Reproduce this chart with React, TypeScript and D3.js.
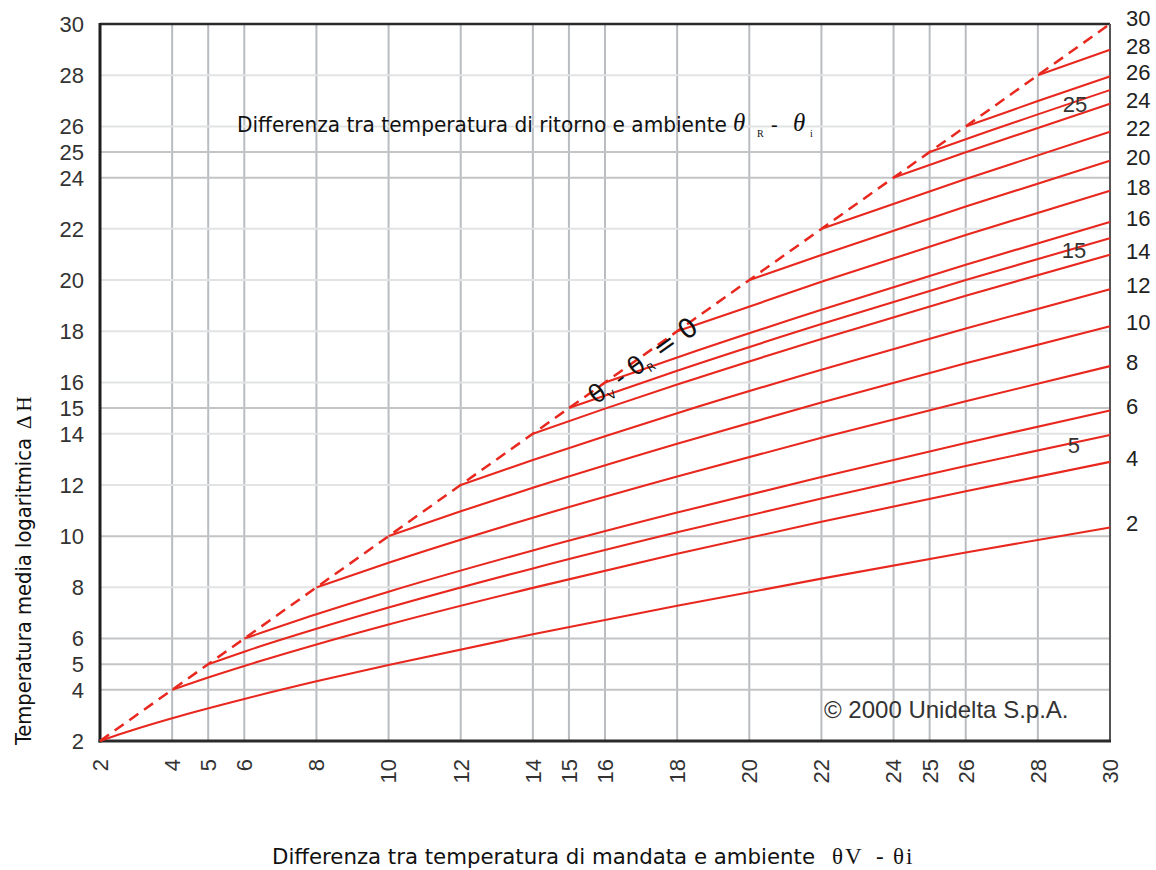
import React from "react";
import * as d3 from "d3";

// tick values on both axes (°C)
const axisTicks = [2, 4, 5, 6, 8, 10, 12, 14, 15, 16, 18, 20, 22, 24, 25, 26, 28, 30];
// horizontal grid rows drawn in the darker grey
const darkRows = [4, 5, 6, 10, 15, 24, 25];

// curves: [θV - θi, ΔH] for each return difference θR - θi
const curveR2 = [[2, 2], [2.5, 2.24], [3, 2.47], [4, 2.89], [6, 3.64], [8, 4.33], [10, 4.97], [14, 6.17], [18, 7.28], [22, 8.34], [26, 9.36], [30, 10.34]];
const curveR4 = [[4, 4], [5, 4.48], [6, 4.93], [8, 5.77], [10, 6.55], [14, 7.98], [18, 9.31], [22, 10.56], [26, 11.75], [30, 12.9]];
const curveR5 = [[5, 5], [6, 5.49], [8, 6.38], [10, 7.21], [14, 8.74], [18, 10.15], [22, 11.47], [26, 12.74], [30, 13.95]];
const curveR6 = [[6, 6], [8, 6.95], [10, 7.83], [14, 9.44], [18, 10.92], [22, 12.31], [26, 13.64], [30, 14.91]];
const curveR8 = [[8, 8], [10, 8.96], [14, 10.72], [18, 12.33], [22, 13.84], [26, 15.27], [30, 16.64]];
const curveR10 = [[10, 10], [12, 10.97], [14, 11.89], [18, 13.61], [22, 15.22], [26, 16.75], [30, 18.2]];
const curveR12 = [[12, 12], [14, 12.97], [16, 13.9], [18, 14.8], [22, 16.5], [26, 18.11], [30, 19.64]];
const curveR14 = [[14, 14], [16, 14.98], [18, 15.92], [22, 17.7], [26, 19.39], [30, 20.99]];
const curveR15 = [[15, 15], [18, 16.46], [22, 18.28], [26, 20], [30, 21.64]];
const curveR16 = [[16, 16], [18, 16.98], [22, 18.84], [26, 20.6], [30, 22.27]];
const curveR18 = [[18, 18], [22, 19.93], [26, 21.76], [30, 23.49]];
const curveR20 = [[20, 20], [22, 20.98], [26, 22.87], [30, 24.66]];
const curveR22 = [[22, 22], [26, 23.95], [30, 25.79]];
const curveR24 = [[24, 24], [26, 24.99], [30, 26.89]];
const curveR25 = [[25, 25], [26, 25.5], [30, 27.42]];
const curveR26 = [[26, 26], [28, 26.99], [30, 27.95]];
const curveR28 = [[28, 28], [30, 28.99]];
const zeroLine = [[2, 2], [30, 30]];

const curves = [curveR2, curveR4, curveR5, curveR6, curveR8, curveR10, curveR12, curveR14, curveR15,
  curveR16, curveR18, curveR20, curveR22, curveR24, curveR25, curveR26, curveR28];

// labels on the right edge, one per curve end
const rightLabels = ["2", "4", "6", "8", "10", "12", "14", "16", "18", "20", "22", "24", "26", "28"];
const rightCurves = [curveR2, curveR4, curveR6, curveR8, curveR10, curveR12, curveR14, curveR16, curveR18, curveR20, curveR22, curveR24, curveR26, curveR28];

// labels inside the chart
const innerLabels = ["25", "15", "5"];
const innerLabelX = [29.03, 29, 29];
const innerLabelY = [26.88, 21.18, 13.56];

const RED = "#e8281e";
const W = 1156;
const H = 870;

export default function App() {
  const x = d3.scaleLinear().domain([2, 30]).range([100, 1110]);
  const y = d3.scaleLinear().domain([2, 30]).range([741, 24]);

  const line = d3.line<number[]>()
    .x(d => x(d[0]))
    .y(d => y(d[1]))
    .curve(d3.curveMonotoneX);

  const sans = "'Liberation Sans', Arial, sans-serif";
  const cond = "'DejaVu Sans', sans-serif";
  const serif = "'Liberation Serif', 'DejaVu Serif', serif";

  const angle = -Math.atan((y(2) - y(30)) / (x(30) - x(2))) * 180 / Math.PI;

  return (
    <svg width={W} height={H} style={{ position: "absolute", left: 0, top: 0, display: "block", background: "#fff" }}>
      {/* grid */}
      <g>
        {axisTicks.filter(t => t > 2 && t < 30).map(t => (
          <line key={"v" + t} x1={x(t)} x2={x(t)} y1={y(30)} y2={y(2)} stroke="#b9bcc0" strokeWidth={2} />
        ))}
        {axisTicks.filter(t => t > 2 && t < 30).map(t => (
          <line key={"h" + t} x1={x(2)} x2={x(30)} y1={y(t)} y2={y(t)}
            stroke={darkRows.includes(t) ? "#c2c4c6" : "#e2e3e4"} strokeWidth={2} />
        ))}
      </g>

      {/* frame */}
      <line x1={x(2)} x2={x(30)} y1={y(30)} y2={y(30)} stroke="#2a2a2a" strokeWidth={2.5} />
      <line x1={x(30)} x2={x(30)} y1={y(30)} y2={y(2)} stroke="#555" strokeWidth={2} />
      <line x1={x(2)} x2={x(2)} y1={y(30) - 1} y2={y(2) + 1.5} stroke="#1e1e1e" strokeWidth={3} />
      <line x1={x(2) - 1.5} x2={x(30) + 1} y1={y(2)} y2={y(2)} stroke="#2a2a2a" strokeWidth={3} />

      {/* curves */}
      <path d={line(zeroLine) || ""} fill="none" stroke={RED} strokeWidth={2.5} strokeDasharray="11 7" />
      {curves.map((c, i) => (
        <path key={"c" + i} d={line(c) || ""} fill="none" stroke={RED} strokeWidth={2.1} />
      ))}

      {/* left ticks */}
      <g fontFamily={sans} fontSize={22} fill="#333" textAnchor="end">
        {axisTicks.map(t => (
          <text key={"yl" + t} x={84} y={y(t)} dy="0.36em">{t}</text>
        ))}
      </g>

      {/* bottom ticks, rotated */}
      <g fontFamily={sans} fontSize={22} fill="#333" textAnchor="end">
        {axisTicks.map(t => (
          <text key={"xl" + t} transform={`translate(${x(t)},759) rotate(-90)`} dy="0.36em">{t}</text>
        ))}
      </g>

      {/* right labels */}
      <g fontFamily={sans} fontSize={22} fill="#222" textAnchor="start">
        <text x={1126} y={y(30) - 6} dy="0.36em">30</text>
        {rightLabels.map((l, i) => {
          const c = rightCurves[i];
          const end = c[c.length - 1];
          return <text key={"rl" + l} x={1126} y={y(end[1]) - 4} dy="0.36em">{l}</text>;
        })}
      </g>

      {/* inner labels */}
      <g fontFamily={sans} fontSize={22} fill="#333" textAnchor="middle">
        {innerLabels.map((l, i) => (
          <text key={"il" + l} x={x(innerLabelX[i])} y={y(innerLabelY[i])} dy="0.36em">{l}</text>
        ))}
      </g>

      {/* top annotation */}
      <text x={237} y={132} fontFamily={cond} fontStretch="condensed" fontSize={22} fill="#111" textLength={490} lengthAdjust="spacingAndGlyphs">
        Differenza tra temperatura di ritorno e ambiente
      </text>
      <g fontFamily={serif} fill="#111">
        <text x={733} y={131} fontSize={25} fontStyle="italic">θ</text>
        <text x={757} y={137} fontSize={10}>R</text>
        <text x={771} y={131} fontSize={20}>-</text>
        <text x={793} y={131} fontSize={25} fontStyle="italic">θ</text>
        <text x={810} y={137} fontSize={10}>i</text>
      </g>

      {/* zero-difference label along the dashed line */}
      <text transform={`translate(596,405) rotate(${angle})`} fontFamily="'DejaVu Sans', sans-serif" fill="#111">
        <tspan fontSize={25}>θ</tspan>
        <tspan fontSize={11} dy={5}>V</tspan>
        <tspan fontSize={25} dy={-5}> - θ</tspan>
        <tspan fontSize={11} dy={5}>R</tspan>
        <tspan fontSize={27} dy={-5}> = 0</tspan>
      </text>

      {/* copyright */}
      <text x={824} y={718} fontFamily={sans} fontSize={24} fill="#333">© 2000 Unidelta S.p.A.</text>

      {/* y axis title */}
      <g transform="translate(31,745) rotate(-90)">
        <text x={0} y={0} fontFamily={cond} fontStretch="condensed" fontSize={21} fill="#111" textLength={307} lengthAdjust="spacingAndGlyphs">
          Temperatura media logaritmica
        </text>
        <text x={316} y={0} fontFamily={serif} fontSize={21} fill="#111">Δ H</text>
      </g>

      {/* x axis title */}
      <text x={272} y={864} fontFamily={cond} fontStretch="condensed" fontSize={21} fill="#111" textLength={543} lengthAdjust="spacingAndGlyphs">
        Differenza tra temperatura di mandata e ambiente
      </text>
      <g fontFamily={serif} fontSize={23} fill="#111">
        <text x={832} y={864}>θ</text>
        <text x={845} y={864}>V</text>
        <text x={876} y={864}>-</text>
        <text x={893} y={864}>θ</text>
        <text x={906} y={864}>i</text>
      </g>
    </svg>
  );
}
